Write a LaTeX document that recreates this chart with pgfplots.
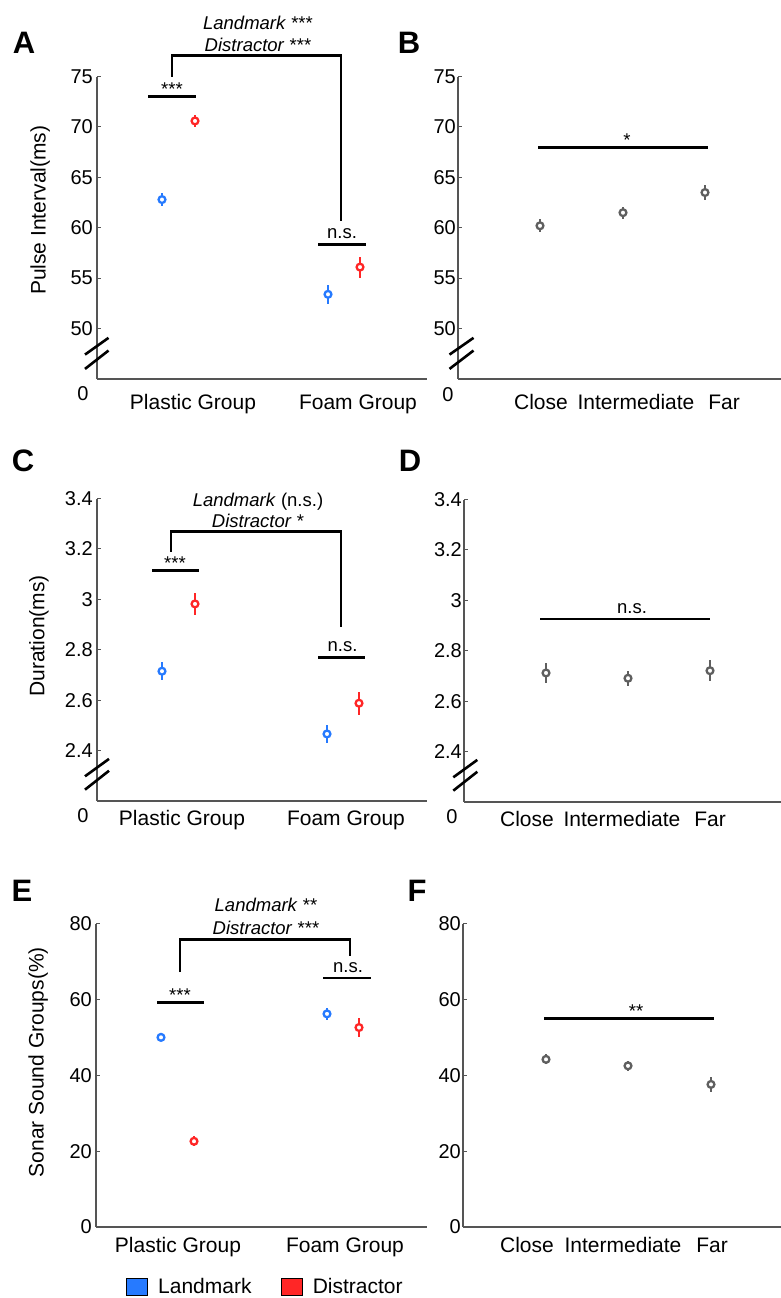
\documentclass[border=0pt]{standalone}
\usepackage{pgfplots}
\pgfplotsset{compat=1.18}
\usepackage{fontspec}
\setmainfont{Liberation Sans}
\definecolor{lmblue}{RGB}{38,122,255}
\definecolor{dsred}{RGB}{255,38,38}
\definecolor{ptgray}{RGB}{95,95,95}
\definecolor{axgray}{RGB}{85,85,85}
\newcommand{\tickfont}{\fontsize{20}{21}\selectfont}
\newcommand{\labfont}{\fontsize{21}{23}\selectfont}
\newcommand{\annfont}{\fontsize{18.5}{20}\selectfont}
\tikzset{
  sig/.style={black, line width=2.9pt},
  ann/.style={font=\annfont, anchor=base, inner sep=0pt},
  brk/.style={black, line width=2.6pt},
}
\pgfplotsset{
  panel/.style={
    scale only axis, clip=false,
    axis lines=left,
    axis line style={-, axgray, line width=1.3pt},
    ytick style={axgray, line width=1pt},
    tick align=inside, major tick length=4pt,
    xtick style={draw=none},
    /pgf/number format/assume math mode=true,
    yticklabel style={font=\tickfont, inner sep=0pt, xshift=-4pt},
    xticklabel style={font=\labfont, anchor=base},
    ylabel style={font=\labfont, anchor=center},
  },
  pts/.style={only marks, mark=*, mark size=3.4pt, color=#1,
    mark options={fill=white, draw=#1, line width=2.3pt},
    /pgfplots/error bars/y dir=both, /pgfplots/error bars/y explicit,
    /pgfplots/error bars/error mark=none,
    /pgfplots/error bars/error bar style={line width=2.6pt, #1}},
}
\begin{document}
\begin{tikzpicture}
\useasboundingbox (0pt,0pt) rectangle (781pt,1298pt);
% panel letters
\node[font=\fontsize{31}{31}\selectfont\bfseries] at (24pt,1255pt) {A};
\node[font=\fontsize{31}{31}\selectfont\bfseries] at (409pt,1255pt) {B};
\node[font=\fontsize{31}{31}\selectfont\bfseries] at (23pt,837pt) {C};
\node[font=\fontsize{31}{31}\selectfont\bfseries] at (410pt,837pt) {D};
\node[font=\fontsize{31}{31}\selectfont\bfseries] at (22pt,407pt) {E};
\node[font=\fontsize{31}{31}\selectfont\bfseries] at (417pt,407pt) {F};

% ---------------- A ----------------
\begin{axis}[panel, at={(97pt,919pt)}, anchor=south west,
  width=330pt, height=302.4pt, xmin=0, xmax=330, ymin=45, ymax=75,
  ytick={50,55,60,65,70,75},
  xtick={96,261}, xticklabels={Plastic Group, Foam Group},
  xticklabel style={yshift=-31pt},
  ylabel={Pulse Interval(ms)},
  ylabel style={at={(axis description cs:-0.172,0.558)}}]
\addplot[pts=lmblue] table[y error index=2] {
x y e
65 62.8 0.63
231 53.4 0.96
};
\addplot[pts=dsred] table[y error index=2] {
x y e
98 70.6 0.6
263 56.1 1.04
};
\draw[sig] (axis cs:51,73) -- (axis cs:99,73);
\node[ann] at ([yshift=1pt]axis cs:75,73) {***};
\draw[sig] (axis cs:75,75) -- (axis cs:75,77.1) -- (axis cs:244,77.1) -- (axis cs:244,60.7);
\draw[sig] (axis cs:221,58.3) -- (axis cs:269,58.3);
\node[ann] at ([yshift=6pt]axis cs:245,58.3) {n.s.};
\node[ann] at (axis cs:161,79.63) {\textit{Landmark} ***};
\node[ann] at (axis cs:161,77.51) {\textit{Distractor} ***};
\draw[brk] (axis cs:-12,47.42) -- (axis cs:11.5,49.08);
\draw[brk] (axis cs:-12,46.0) -- (axis cs:11.5,47.82);
\node[font=\tickfont] at (axis cs:-14,43.55) {0};
\end{axis}

% ---------------- B ----------------
\begin{axis}[panel, at={(458pt,919pt)}, anchor=south west,
  width=323pt, height=302.4pt, xmin=0, xmax=323, ymin=45, ymax=75,
  ytick={50,55,60,65,70,75},
  yticklabel style={xshift=2pt},
  xtick={83,178,266}, xticklabels={Close, Intermediate, Far},
  xticklabel style={yshift=-31pt}]
\addplot[pts=ptgray] table[y error index=2] {
x y e
82 60.2 0.66
165 61.5 0.58
247 63.5 0.78
};
\draw[sig] (axis cs:80,68) -- (axis cs:250,68);
\node[ann] at ([yshift=1pt]axis cs:169,68) {*};
\draw[brk] (axis cs:-8.5,47.42) -- (axis cs:15.5,49.08);
\draw[brk] (axis cs:-8.5,46.0) -- (axis cs:15.5,47.82);
\node[font=\tickfont] at (axis cs:-10,43.45) {0};
\end{axis}

% ---------------- C ----------------
\begin{axis}[panel, at={(97pt,497pt)}, anchor=south west,
  width=330pt, height=302.4pt, xmin=0, xmax=330, ymin=2.2, ymax=3.4,
  ytick={2.4,2.6,2.8,3.0,3.2,3.4},
  xtick={85,249}, xticklabels={Plastic Group, Foam Group},
  xticklabel style={yshift=-25pt},
  ylabel={Duration(ms)},
  ylabel style={at={(axis description cs:-0.176,0.546)}}]
\addplot[pts=lmblue] table[y error index=2] {
x y e
65 2.715 0.036
230 2.466 0.036
};
\addplot[pts=dsred] table[y error index=2] {
x y e
98 2.982 0.043
262 2.588 0.046
};
\draw[sig] (axis cs:55,3.116) -- (axis cs:102,3.116);
\node[ann] at ([yshift=1pt]axis cs:78,3.116) {***};
\draw[sig] (axis cs:74,3.19) -- (axis cs:74,3.268) -- (axis cs:244,3.268) -- (axis cs:244,2.89);
\draw[sig] (axis cs:221,2.769) -- (axis cs:268,2.769);
\node[ann] at ([yshift=6pt]axis cs:245.5,2.769) {n.s.};
\node[ann] at (axis cs:161,3.367) {\textit{Landmark} (n.s.)};
\node[ann] at (axis cs:161,3.284) {\textit{Distractor} *};
\draw[brk] (axis cs:-12,2.298) -- (axis cs:12,2.367);
\draw[brk] (axis cs:-12,2.245) -- (axis cs:12,2.32);
\node[font=\tickfont] at (axis cs:-14,2.142) {0};
\end{axis}

% ---------------- D ----------------
\begin{axis}[panel, at={(464pt,496pt)}, anchor=south west,
  width=317pt, height=302.4pt, xmin=0, xmax=317, ymin=2.2, ymax=3.4,
  ytick={2.4,2.6,2.8,3.0,3.2,3.4},
  yticklabel style={xshift=2pt},
  xtick={63,158,246}, xticklabels={Close, Intermediate, Far},
  xticklabel style={yshift=-25pt}]
\addplot[pts=ptgray] table[y error index=2] {
x y e
82 2.712 0.04
164 2.691 0.03
246 2.721 0.042
};
\draw[sig] (axis cs:76,2.926) -- (axis cs:246,2.926);
\node[ann] at ([yshift=6pt]axis cs:168,2.926) {n.s.};
\draw[brk] (axis cs:-10.7,2.298) -- (axis cs:13.3,2.367);
\draw[brk] (axis cs:-10.7,2.245) -- (axis cs:13.3,2.32);
\node[font=\tickfont] at (axis cs:-12,2.142) {0};
\end{axis}

% ---------------- E ----------------
\begin{axis}[panel, at={(96pt,71pt)}, anchor=south west,
  width=331pt, height=303.4pt, xmin=0, xmax=331, ymin=0, ymax=80,
  ytick={0,20,40,60,80},
  xtick={82,249}, xticklabels={Plastic Group, Foam Group},
  xticklabel style={yshift=-26pt},
  ylabel={Sonar Sound Groups(\%)},
  ylabel style={at={(axis description cs:-0.175,0.543)}},
  legend image code/.code={\draw[#1] (0pt,-8.5pt) rectangle (21pt,8.5pt);},
  legend style={at={(axis description cs:0.09,-0.197)}, anchor=west,
    draw=none, fill=none, legend columns=2, font=\labfont, inner sep=0pt,
    /tikz/every odd column/.append style={column sep=8pt},
    /tikz/every even column/.append style={column sep=27pt}},
  ]
\addlegendimage{fill=lmblue, draw=black, line width=1.2pt}
\addlegendentry{Landmark}
\addlegendimage{fill=dsred, draw=black, line width=1.2pt}
\addlegendentry{Distractor}
\addplot[forget plot, pts=lmblue] table[y error index=2] {
x y e
65 50.0 0.9
231 56.2 1.5
};
\addplot[forget plot, pts=dsred] table[y error index=2] {
x y e
98 22.6 1.3
263 52.6 2.4
};
\draw[sig] (axis cs:61,59.2) -- (axis cs:108,59.2);
\node[ann] at ([yshift=1pt]axis cs:84,59.2) {***};
\draw[sig] (axis cs:84,67.2) -- (axis cs:84,75.8) -- (axis cs:254,75.8) -- (axis cs:254,71.4);
\draw[sig] (axis cs:227,65.65) -- (axis cs:275,65.65);
\node[ann] at ([yshift=6pt]axis cs:252,65.65) {n.s.};
\node[ann] at (axis cs:170,83.06) {\textit{Landmark} **};
\node[ann] at (axis cs:170,77.2) {\textit{Distractor} ***};
\end{axis}

% ---------------- F ----------------
\begin{axis}[panel, at={(463pt,71pt)}, anchor=south west,
  width=318pt, height=303.4pt, xmin=0, xmax=318, ymin=0, ymax=80,
  ytick={0,20,40,60,80},
  yticklabel style={xshift=2pt},
  xtick={64,160,249}, xticklabels={Close, Intermediate, Far},
  xticklabel style={yshift=-26pt}]
\addplot[pts=ptgray] table[y error index=2] {
x y e
83 44.2 1.3
165 42.5 1.3
248 37.6 1.9
};
\draw[sig] (axis cs:81,54.9) -- (axis cs:251,54.9);
\node[ann] at ([yshift=1pt]axis cs:173,54.9) {**};
\end{axis}
\end{tikzpicture}
\end{document}
